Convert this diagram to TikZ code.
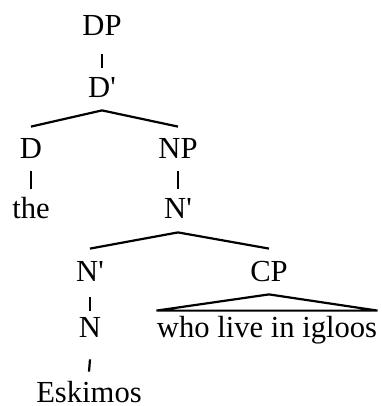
\documentclass[tikz,border=0pt]{standalone}
\usepackage{fontspec}
\setmainfont{Liberation Serif}
\begin{document}
\begin{tikzpicture}[x=0.5pt,y=-0.5pt,
	lab/.style={inner sep=0pt, anchor=base, text height=10pt, text depth=0pt, font=\fontsize{15.3}{18}\selectfont},
	edge/.style={line width=1.1pt}]
	%\draw [help lines] (0,0) grid (381,406);
	\useasboundingbox (0,0) rectangle (381,406);

	\node[lab] (dp) at (102,36) {DP};
	\node[lab] (dbar) at (102,98) {D\textquotesingle};
	\node[lab] (d) at (31,159) {D};
	\node[lab] (np) at (178,159) {NP};
	\node[lab] (the) at (31,219) {the};
	\node[lab] (nbar) at (178,219) {N\textquotesingle};
	\node[lab] (nbarb) at (90,281) {N\textquotesingle};
	\node[lab] (cp) at (269,281) {CP};
	\node[lab] (n) at (90,337) {N};
	\node[lab] (who) at (267,337) {who live in igloos};
	\node[lab] (esk) at (89,402) {Eskimos};

	% unary
	\draw[edge] ([yshift=-9pt]dp.south) -- ([yshift=5pt]dbar.north);
	\draw[edge] ([yshift=-6pt]d.south) -- ([yshift=5pt]the.north);
	\draw[edge] ([yshift=-6pt]np.south) -- ([yshift=5pt]nbar.north);
	\draw[edge] ([yshift=-8pt]nbarb.south) -- ([yshift=3pt]n.north);
	\draw[edge] ([yshift=-11pt]n.south) -- ([yshift=5pt]esk.north);

	% binary
	\draw[edge] ([yshift=-6pt]dbar.south) -- ([yshift=6pt]d.north);
	\draw[edge] ([yshift=-6pt]dbar.south) -- ([yshift=6pt]np.north);
	\draw[edge] ([yshift=-6.5pt]nbar.south) -- ([yshift=6pt]nbarb.north);
	\draw[edge] ([yshift=-6.5pt]nbar.south) -- ([yshift=6pt]cp.north);

	% triangle
	\draw[edge] ([yshift=3pt]who.north west) -- ([yshift=-6.5pt]cp.south) -- ([yshift=3pt]who.north east) -- cycle;
\end{tikzpicture}
\end{document}
